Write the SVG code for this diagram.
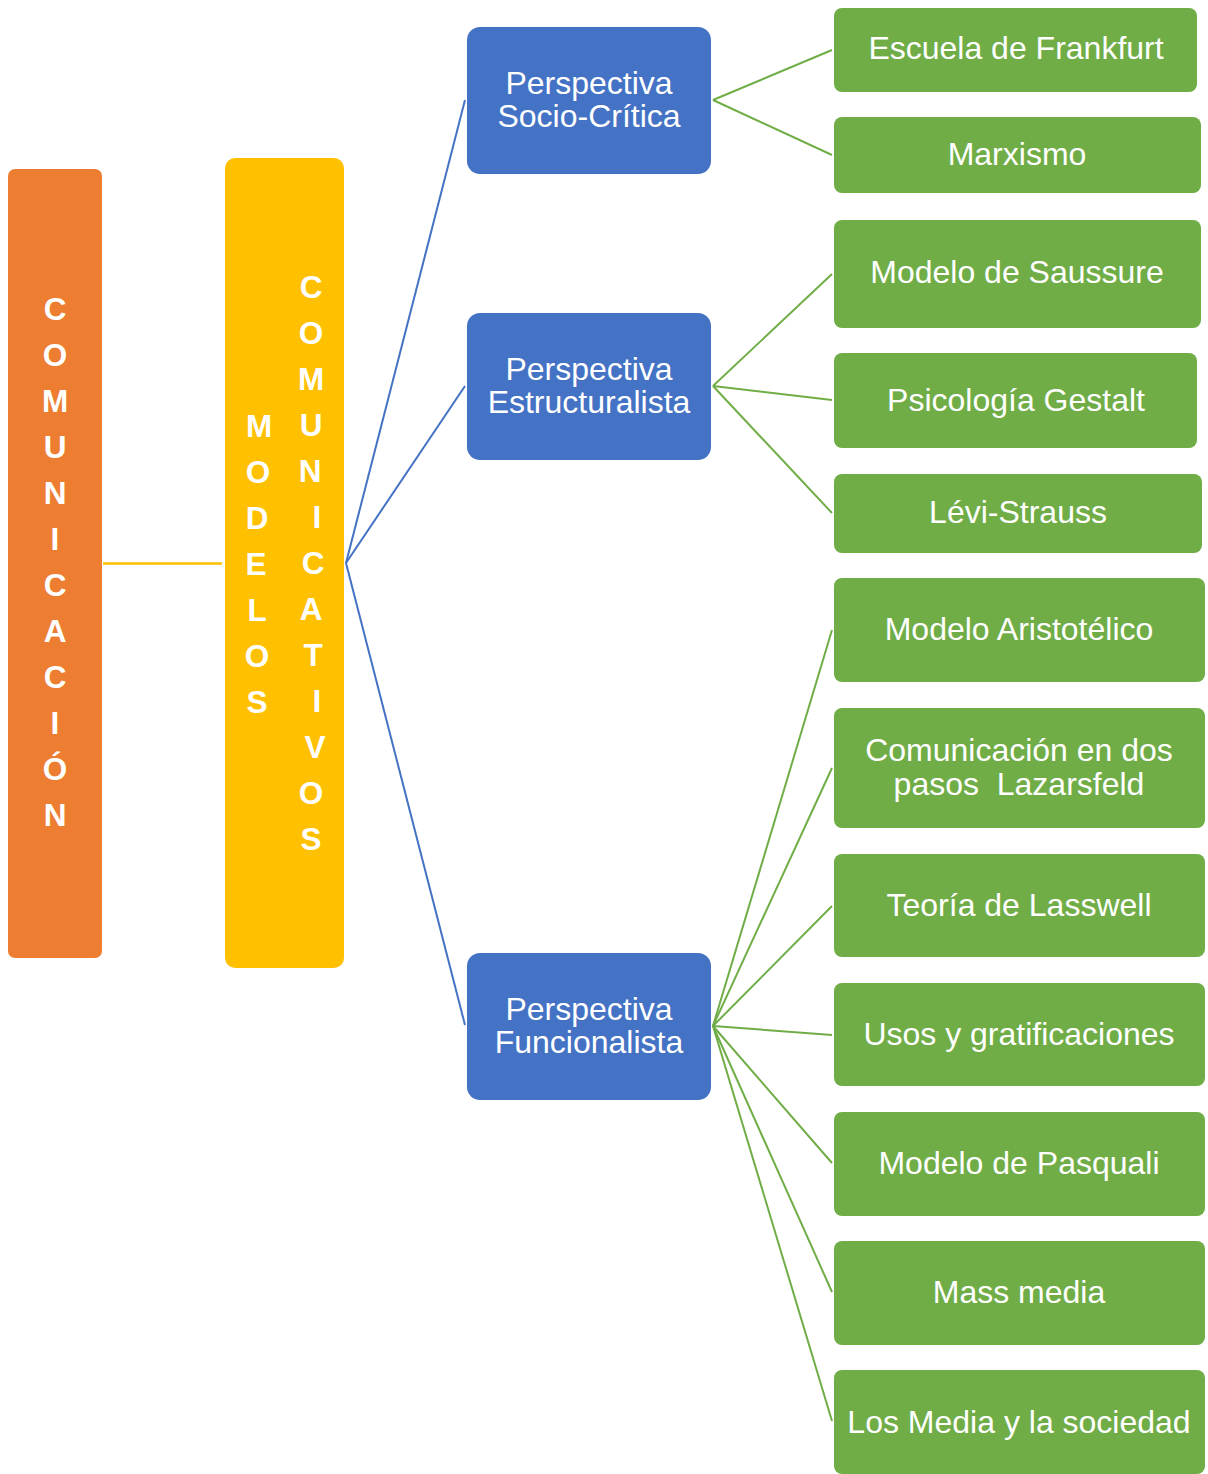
<svg xmlns="http://www.w3.org/2000/svg" width="1208" height="1474" viewBox="0 0 1208 1474">
<style>
.t{font-family:"Liberation Sans",Arial,sans-serif;font-size:32px;fill:#fff;text-anchor:middle;white-space:pre}
.v{font-family:"Liberation Sans",Arial,sans-serif;font-size:31.5px;font-weight:bold;fill:#fff;text-anchor:middle}
.blue{fill:#4472C4}
.green{fill:#70AD47}
.cb{stroke:#4472C4;stroke-width:2;fill:none}
.cg{stroke:#70AD47;stroke-width:2;fill:none}
</style>
<rect width="1208" height="1474" fill="#fff"/>
<g id="connectors">
<line x1="103" y1="563.5" x2="222" y2="563.5" stroke="#FFC000" stroke-width="2.5"/>
<line class="cb" x1="346" y1="563" x2="465" y2="100"/>
<line class="cb" x1="346" y1="563" x2="465" y2="386"/>
<line class="cb" x1="346" y1="563" x2="465" y2="1025"/>
<line class="cg" x1="713" y1="100" x2="832" y2="50"/>
<line class="cg" x1="713" y1="100" x2="832" y2="155"/>
<line class="cg" x1="713" y1="386" x2="832" y2="274"/>
<line class="cg" x1="713" y1="386" x2="832" y2="400"/>
<line class="cg" x1="713" y1="386" x2="832" y2="513"/>
<line class="cg" x1="713" y1="1026" x2="832" y2="630"/>
<line class="cg" x1="713" y1="1026" x2="832" y2="768"/>
<line class="cg" x1="713" y1="1026" x2="832" y2="906"/>
<line class="cg" x1="713" y1="1026" x2="832" y2="1035"/>
<line class="cg" x1="713" y1="1026" x2="832" y2="1163"/>
<line class="cg" x1="713" y1="1026" x2="832" y2="1292"/>
<line class="cg" x1="713" y1="1026" x2="832" y2="1421"/>
</g>
<g id="comunicacion">
<rect x="8" y="169" width="94" height="789" rx="7" fill="#ED7D31"/>
<text class="v" x="55" y="320">C</text>
<text class="v" x="55" y="366">O</text>
<text class="v" x="55" y="412">M</text>
<text class="v" x="55" y="458">U</text>
<text class="v" x="55" y="504">N</text>
<text class="v" x="55" y="550">I</text>
<text class="v" x="55" y="596">C</text>
<text class="v" x="55" y="642">A</text>
<text class="v" x="55" y="688">C</text>
<text class="v" x="55" y="734">I</text>
<text class="v" x="55" y="780">Ó</text>
<text class="v" x="55" y="826">N</text>
</g>
<g id="modelos">
<rect x="225" y="158" width="119" height="810" rx="10" fill="#FFC000"/>
<text class="v" x="259" y="437">M</text>
<text class="v" x="258" y="483">O</text>
<text class="v" x="257" y="529">D</text>
<text class="v" x="256" y="575">E</text>
<text class="v" x="257" y="621">L</text>
<text class="v" x="257" y="667">O</text>
<text class="v" x="257" y="713">S</text>
<text class="v" x="311" y="298">C</text>
<text class="v" x="311" y="344">O</text>
<text class="v" x="311" y="390">M</text>
<text class="v" x="311" y="436">U</text>
<text class="v" x="310" y="482">N</text>
<text class="v" x="317" y="528">I</text>
<text class="v" x="313" y="574">C</text>
<text class="v" x="311" y="620">A</text>
<text class="v" x="313" y="666">T</text>
<text class="v" x="317" y="712">I</text>
<text class="v" x="315" y="758">V</text>
<text class="v" x="311" y="804">O</text>
<text class="v" x="311" y="850">S</text>
</g>
<g id="socio-critica">
<rect class="blue" x="467" y="27" width="244" height="147" rx="13"/>
<text class="t" x="589" y="94">Perspectiva</text>
<text class="t" x="589" y="127">Socio-Crítica</text>
</g>
<g id="estructuralista">
<rect class="blue" x="467" y="313" width="244" height="147" rx="13"/>
<text class="t" x="589" y="380">Perspectiva</text>
<text class="t" x="589" y="413">Estructuralista</text>
</g>
<g id="funcionalista">
<rect class="blue" x="467" y="953" width="244" height="147" rx="13"/>
<text class="t" x="589" y="1020">Perspectiva</text>
<text class="t" x="589" y="1053">Funcionalista</text>
</g>
<g id="frankfurt">
<rect class="green" x="834" y="8" width="363" height="84" rx="8"/>
<text class="t" x="1016" y="59">Escuela de Frankfurt</text>
</g>
<g id="marxismo">
<rect class="green" x="834" y="117" width="367" height="76" rx="8"/>
<text class="t" x="1017" y="165">Marxismo</text>
</g>
<g id="saussure">
<rect class="green" x="834" y="220" width="367" height="108" rx="8"/>
<text class="t" x="1017" y="283">Modelo de Saussure</text>
</g>
<g id="gestalt">
<rect class="green" x="834" y="353" width="363" height="95" rx="8"/>
<text class="t" x="1016" y="411">Psicología Gestalt</text>
</g>
<g id="levi-strauss">
<rect class="green" x="834" y="474" width="368" height="79" rx="8"/>
<text class="t" x="1018" y="523">Lévi-Strauss</text>
</g>
<g id="aristotelico">
<rect class="green" x="834" y="578" width="371" height="104" rx="8"/>
<text class="t" x="1019" y="640">Modelo Aristotélico</text>
</g>
<g id="lazarsfeld">
<rect class="green" x="834" y="708" width="371" height="120" rx="8"/>
<text class="t" x="1019" y="761">Comunicación en dos</text>
<text class="t" x="1019" y="795">pasos  Lazarsfeld</text>
</g>
<g id="lasswell">
<rect class="green" x="834" y="854" width="371" height="103" rx="8"/>
<text class="t" x="1019" y="916">Teoría de Lasswell</text>
</g>
<g id="usos">
<rect class="green" x="834" y="983" width="371" height="103" rx="8"/>
<text class="t" x="1019" y="1045">Usos y gratificaciones</text>
</g>
<g id="pasquali">
<rect class="green" x="834" y="1112" width="371" height="104" rx="8"/>
<text class="t" x="1019" y="1174">Modelo de Pasquali</text>
</g>
<g id="mass-media">
<rect class="green" x="834" y="1241" width="371" height="104" rx="8"/>
<text class="t" x="1019" y="1303">Mass media</text>
</g>
<g id="media-sociedad">
<rect class="green" x="834" y="1370" width="371" height="104" rx="8"/>
<text class="t" x="1019" y="1433">Los Media y la sociedad</text>
</g>
</svg>
